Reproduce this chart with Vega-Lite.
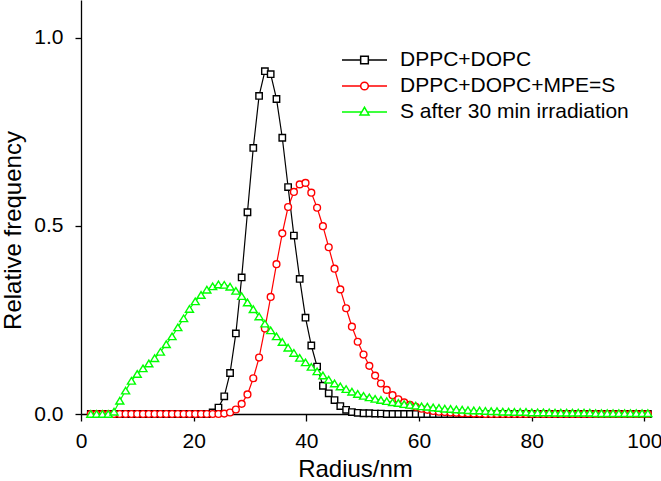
{
"$schema":"https://vega.github.io/schema/vega-lite/v6.json",
"width":569,"height":414,
"autosize":{"type":"none"},
"padding":{"left":81,"top":0,"right":11,"bottom":67},
"background":"white",
"config":{"view":{"stroke":null},"font":"Liberation Sans"},
"data":{"values":[
{"s":"A","x":1.74,"y":0},{"s":"A","x":2.77,"y":0},{"s":"A","x":3.80,"y":0},{"s":"A","x":4.83,"y":0},{"s":"A","x":5.86,"y":0},{"s":"A","x":6.89,"y":0},{"s":"A","x":7.92,"y":0},{"s":"A","x":8.95,"y":0},{"s":"A","x":9.98,"y":0},{"s":"A","x":11.01,"y":0},{"s":"A","x":12.04,"y":0},{"s":"A","x":13.07,"y":0},{"s":"A","x":14.10,"y":0},{"s":"A","x":15.13,"y":0},{"s":"A","x":16.16,"y":0},{"s":"A","x":17.19,"y":0},{"s":"A","x":18.22,"y":0},{"s":"A","x":19.25,"y":0},{"s":"A","x":20.28,"y":0},{"s":"A","x":21.31,"y":0},{"s":"A","x":22.34,"y":0},{"s":"A","x":23.37,"y":0.004},{"s":"A","x":24.40,"y":0.017},{"s":"A","x":25.43,"y":0.047},{"s":"A","x":26.46,"y":0.109},{"s":"A","x":27.49,"y":0.214},{"s":"A","x":28.52,"y":0.363},{"s":"A","x":29.55,"y":0.536},{"s":"A","x":30.58,"y":0.707},{"s":"A","x":31.61,"y":0.845},{"s":"A","x":32.64,"y":0.911},{"s":"A","x":33.67,"y":0.903},{"s":"A","x":34.70,"y":0.837},{"s":"A","x":35.73,"y":0.734},{"s":"A","x":36.76,"y":0.603},{"s":"A","x":37.79,"y":0.474},{"s":"A","x":38.82,"y":0.359},{"s":"A","x":39.85,"y":0.256},{"s":"A","x":40.88,"y":0.182},{"s":"A","x":41.91,"y":0.126},{"s":"A","x":42.94,"y":0.075},{"s":"A","x":43.97,"y":0.055},{"s":"A","x":45.00,"y":0.037},{"s":"A","x":46.03,"y":0.021},{"s":"A","x":47.06,"y":0.011},{"s":"A","x":48.09,"y":0.005},{"s":"A","x":49.12,"y":0.003},{"s":"A","x":50.15,"y":0.002},{"s":"A","x":51.18,"y":0.002},{"s":"A","x":52.21,"y":0.001},{"s":"A","x":53.24,"y":0.001},{"s":"A","x":54.27,"y":0},{"s":"A","x":55.30,"y":0},{"s":"A","x":56.33,"y":0},{"s":"A","x":57.36,"y":0},{"s":"A","x":58.39,"y":0},{"s":"A","x":59.42,"y":0},{"s":"A","x":60.45,"y":0},{"s":"A","x":61.48,"y":0},{"s":"A","x":62.51,"y":0},{"s":"A","x":63.54,"y":0},{"s":"A","x":64.57,"y":0},{"s":"A","x":65.60,"y":0},{"s":"A","x":66.63,"y":0},{"s":"A","x":67.66,"y":0},{"s":"A","x":68.69,"y":0},{"s":"A","x":69.72,"y":0},{"s":"A","x":70.75,"y":0},{"s":"A","x":71.78,"y":0},{"s":"A","x":72.81,"y":0},{"s":"A","x":73.84,"y":0},{"s":"A","x":74.87,"y":0},{"s":"A","x":75.90,"y":0},{"s":"A","x":76.93,"y":0},{"s":"A","x":77.96,"y":0},{"s":"A","x":78.99,"y":0},{"s":"A","x":80.02,"y":0},{"s":"A","x":81.05,"y":0},{"s":"A","x":82.08,"y":0},{"s":"A","x":83.11,"y":0},{"s":"A","x":84.14,"y":0},{"s":"A","x":85.17,"y":0},{"s":"A","x":86.20,"y":0},{"s":"A","x":87.23,"y":0},{"s":"A","x":88.26,"y":0},{"s":"A","x":89.29,"y":0},{"s":"A","x":90.32,"y":0},{"s":"A","x":91.35,"y":0},{"s":"A","x":92.38,"y":0},{"s":"A","x":93.41,"y":0},{"s":"A","x":94.44,"y":0},{"s":"A","x":95.47,"y":0},{"s":"A","x":96.50,"y":0},{"s":"A","x":97.53,"y":0},{"s":"A","x":98.56,"y":0},{"s":"A","x":99.59,"y":0},{"s":"A","x":100.62,"y":0},
{"s":"B","x":1.74,"y":0},{"s":"B","x":2.77,"y":0},{"s":"B","x":3.80,"y":0},{"s":"B","x":4.83,"y":0},{"s":"B","x":5.86,"y":0},{"s":"B","x":6.89,"y":0},{"s":"B","x":7.92,"y":0},{"s":"B","x":8.95,"y":0},{"s":"B","x":9.98,"y":0},{"s":"B","x":11.01,"y":0},{"s":"B","x":12.04,"y":0},{"s":"B","x":13.07,"y":0},{"s":"B","x":14.10,"y":0},{"s":"B","x":15.13,"y":0},{"s":"B","x":16.16,"y":0},{"s":"B","x":17.19,"y":0},{"s":"B","x":18.22,"y":0},{"s":"B","x":19.25,"y":0},{"s":"B","x":20.28,"y":0},{"s":"B","x":21.31,"y":0},{"s":"B","x":22.34,"y":0},{"s":"B","x":23.37,"y":0},{"s":"B","x":24.40,"y":0},{"s":"B","x":25.43,"y":0.001},{"s":"B","x":26.46,"y":0.004},{"s":"B","x":27.49,"y":0.012},{"s":"B","x":28.52,"y":0.027},{"s":"B","x":29.55,"y":0.052},{"s":"B","x":30.58,"y":0.095},{"s":"B","x":31.61,"y":0.150},{"s":"B","x":32.64,"y":0.227},{"s":"B","x":33.67,"y":0.311},{"s":"B","x":34.70,"y":0.398},{"s":"B","x":35.73,"y":0.480},{"s":"B","x":36.76,"y":0.550},{"s":"B","x":37.79,"y":0.590},{"s":"B","x":38.82,"y":0.610},{"s":"B","x":39.85,"y":0.614},{"s":"B","x":40.88,"y":0.588},{"s":"B","x":41.91,"y":0.548},{"s":"B","x":42.94,"y":0.499},{"s":"B","x":43.97,"y":0.443},{"s":"B","x":45.00,"y":0.386},{"s":"B","x":46.03,"y":0.331},{"s":"B","x":47.06,"y":0.281},{"s":"B","x":48.09,"y":0.232},{"s":"B","x":49.12,"y":0.192},{"s":"B","x":50.15,"y":0.158},{"s":"B","x":51.18,"y":0.128},{"s":"B","x":52.21,"y":0.102},{"s":"B","x":53.24,"y":0.081},{"s":"B","x":54.27,"y":0.064},{"s":"B","x":55.30,"y":0.050},{"s":"B","x":56.33,"y":0.039},{"s":"B","x":57.36,"y":0.031},{"s":"B","x":58.39,"y":0.024},{"s":"B","x":59.42,"y":0.019},{"s":"B","x":60.45,"y":0.014},{"s":"B","x":61.48,"y":0.011},{"s":"B","x":62.51,"y":0.008},{"s":"B","x":63.54,"y":0.006},{"s":"B","x":64.57,"y":0.005},{"s":"B","x":65.60,"y":0.004},{"s":"B","x":66.63,"y":0.003},{"s":"B","x":67.66,"y":0.002},{"s":"B","x":68.69,"y":0.002},{"s":"B","x":69.72,"y":0.001},{"s":"B","x":70.75,"y":0.001},{"s":"B","x":71.78,"y":0},{"s":"B","x":72.81,"y":0},{"s":"B","x":73.84,"y":0},{"s":"B","x":74.87,"y":0},{"s":"B","x":75.90,"y":0},{"s":"B","x":76.93,"y":0},{"s":"B","x":77.96,"y":0},{"s":"B","x":78.99,"y":0},{"s":"B","x":80.02,"y":0},{"s":"B","x":81.05,"y":0},{"s":"B","x":82.08,"y":0},{"s":"B","x":83.11,"y":0},{"s":"B","x":84.14,"y":0},{"s":"B","x":85.17,"y":0},{"s":"B","x":86.20,"y":0},{"s":"B","x":87.23,"y":0},{"s":"B","x":88.26,"y":0},{"s":"B","x":89.29,"y":0},{"s":"B","x":90.32,"y":0},{"s":"B","x":91.35,"y":0},{"s":"B","x":92.38,"y":0},{"s":"B","x":93.41,"y":0},{"s":"B","x":94.44,"y":0},{"s":"B","x":95.47,"y":0},{"s":"B","x":96.50,"y":0},{"s":"B","x":97.53,"y":0},{"s":"B","x":98.56,"y":0},{"s":"B","x":99.59,"y":0},{"s":"B","x":100.62,"y":0},
{"s":"C","x":1.74,"y":0},{"s":"C","x":2.77,"y":0},{"s":"C","x":3.80,"y":0},{"s":"C","x":4.83,"y":0},{"s":"C","x":5.86,"y":0.006},{"s":"C","x":6.89,"y":0.035},{"s":"C","x":7.92,"y":0.062},{"s":"C","x":8.95,"y":0.088},{"s":"C","x":9.98,"y":0.106},{"s":"C","x":11.01,"y":0.121},{"s":"C","x":12.04,"y":0.134},{"s":"C","x":13.07,"y":0.148},{"s":"C","x":14.10,"y":0.165},{"s":"C","x":15.13,"y":0.185},{"s":"C","x":16.16,"y":0.206},{"s":"C","x":17.19,"y":0.230},{"s":"C","x":18.22,"y":0.254},{"s":"C","x":19.25,"y":0.279},{"s":"C","x":20.28,"y":0.299},{"s":"C","x":21.31,"y":0.316},{"s":"C","x":22.34,"y":0.330},{"s":"C","x":23.37,"y":0.339},{"s":"C","x":24.40,"y":0.344},{"s":"C","x":25.43,"y":0.343},{"s":"C","x":26.46,"y":0.338},{"s":"C","x":27.49,"y":0.327},{"s":"C","x":28.52,"y":0.313},{"s":"C","x":29.55,"y":0.296},{"s":"C","x":30.58,"y":0.278},{"s":"C","x":31.61,"y":0.259},{"s":"C","x":32.64,"y":0.240},{"s":"C","x":33.67,"y":0.222},{"s":"C","x":34.70,"y":0.206},{"s":"C","x":35.73,"y":0.191},{"s":"C","x":36.76,"y":0.176},{"s":"C","x":37.79,"y":0.162},{"s":"C","x":38.82,"y":0.149},{"s":"C","x":39.85,"y":0.137},{"s":"C","x":40.88,"y":0.125},{"s":"C","x":41.91,"y":0.113},{"s":"C","x":42.94,"y":0.102},{"s":"C","x":43.97,"y":0.091},{"s":"C","x":45.00,"y":0.081},{"s":"C","x":46.03,"y":0.073},{"s":"C","x":47.06,"y":0.066},{"s":"C","x":48.09,"y":0.059},{"s":"C","x":49.12,"y":0.053},{"s":"C","x":50.15,"y":0.048},{"s":"C","x":51.18,"y":0.044},{"s":"C","x":52.21,"y":0.040},{"s":"C","x":53.24,"y":0.037},{"s":"C","x":54.27,"y":0.034},{"s":"C","x":55.30,"y":0.031},{"s":"C","x":56.33,"y":0.029},{"s":"C","x":57.36,"y":0.026},{"s":"C","x":58.39,"y":0.024},{"s":"C","x":59.42,"y":0.022},{"s":"C","x":60.45,"y":0.020},{"s":"C","x":61.48,"y":0.019},{"s":"C","x":62.51,"y":0.017},{"s":"C","x":63.54,"y":0.016},{"s":"C","x":64.57,"y":0.014},{"s":"C","x":65.60,"y":0.013},{"s":"C","x":66.63,"y":0.012},{"s":"C","x":67.66,"y":0.011},{"s":"C","x":68.69,"y":0.010},{"s":"C","x":69.72,"y":0.009},{"s":"C","x":70.75,"y":0.009},{"s":"C","x":71.78,"y":0.008},{"s":"C","x":72.81,"y":0.007},{"s":"C","x":73.84,"y":0.007},{"s":"C","x":74.87,"y":0.006},{"s":"C","x":75.90,"y":0.006},{"s":"C","x":76.93,"y":0.005},{"s":"C","x":77.96,"y":0.005},{"s":"C","x":78.99,"y":0.005},{"s":"C","x":80.02,"y":0.004},{"s":"C","x":81.05,"y":0.004},{"s":"C","x":82.08,"y":0.004},{"s":"C","x":83.11,"y":0.004},{"s":"C","x":84.14,"y":0.003},{"s":"C","x":85.17,"y":0.003},{"s":"C","x":86.20,"y":0.003},{"s":"C","x":87.23,"y":0.003},{"s":"C","x":88.26,"y":0.003},{"s":"C","x":89.29,"y":0.003},{"s":"C","x":90.32,"y":0.003},{"s":"C","x":91.35,"y":0.002},{"s":"C","x":92.38,"y":0.002},{"s":"C","x":93.41,"y":0.002},{"s":"C","x":94.44,"y":0.002},{"s":"C","x":95.47,"y":0.002},{"s":"C","x":96.50,"y":0.002},{"s":"C","x":97.53,"y":0.002},{"s":"C","x":98.56,"y":0.002},{"s":"C","x":99.59,"y":0.002},{"s":"C","x":100.62,"y":0.002}
]},
"encoding":{
 "x":{"field":"x","type":"quantitative","scale":{"domain":[0,101],"nice":false,"zero":false},
  "axis":{"title":"Radius/nm","values":[0,20,40,60,80,100],"format":"d","grid":false,"domainColor":"black","domainWidth":1.3,"tickColor":"black","tickWidth":1.3,"tickSize":7,"labelFontSize":21,"labelColor":"black","labelPadding":9,"labelFont":"Liberation Sans","labelFlush":false,"titleFont":"Liberation Sans","titleFontSize":24,"titleFontWeight":"normal","titleColor":"black","titleX":274,"titleY":62,"titleBaseline":"alphabetic","titleAlign":"center","titleAnchor":null}},
 "y":{"field":"y","type":"quantitative","scale":{"domain":[0,1.1],"nice":false,"zero":false},
  "axis":{"title":"Relative frequency","values":[0,0.5,1],"format":".1f","grid":false,"domainColor":"black","domainWidth":1.3,"tickColor":"black","tickWidth":1.3,"tickSize":6,"labelFontSize":21,"labelColor":"black","labelPadding":12,"labelFont":"Liberation Sans","labelFlush":false,"titleFont":"Liberation Sans","titleFontSize":24,"titleFontWeight":"normal","titleColor":"black","titleX":-61,"titleY":230,"titleAngle":-90,"titleBaseline":"alphabetic","titleAlign":"center","titleAnchor":null}}
},
"layer":[
 {"transform":[{"filter":"datum.s === 'A'"}],
  "encoding":{"color":{"field":"s","type":"nominal","scale":{"domain":["A"],"range":["#000000"]},
   "legend":{"title":null,"orient":"none","legendX":260,"legendY":47,"padding":0,"offset":0,"symbolType":"M-1,0L-0.17,0M0.17,0L1,0M-0.17,-0.17L0.17,-0.17L0.17,0.17L-0.17,0.17Z","symbolSize":2025,"symbolStrokeWidth":1.5,"symbolFillColor":"white","symbolOpacity":1,"clipHeight":26,"labelOffset":12,"labelFontSize":21,"labelColor":"black","labelFont":"Liberation Sans","labelLimit":400,"labelExpr":"'DPPC+DOPC'"}}},
  "layer":[
   {"mark":{"type":"line","strokeWidth":1.2}},
   {"mark":{"type":"point","shape":"M-0.8,-0.8H0.8V0.8H-0.8Z","filled":false,"fill":"white","opacity":1,"strokeWidth":1.4,"size":64}}
  ]},
 {"transform":[{"filter":"datum.s === 'B'"}],
  "encoding":{"color":{"field":"s","type":"nominal","scale":{"domain":["B"],"range":["#ff0000"]},
   "legend":{"title":null,"orient":"none","legendX":260,"legendY":73,"padding":0,"offset":0,"symbolType":"M-1,0L-0.17,0M0.17,0L1,0M0.17,0A0.17,0.17,0,1,1,-0.17,0A0.17,0.17,0,1,1,0.17,0Z","symbolSize":2025,"symbolStrokeWidth":1.5,"symbolFillColor":"white","symbolOpacity":1,"clipHeight":26,"labelOffset":12,"labelFontSize":21,"labelColor":"black","labelFont":"Liberation Sans","labelLimit":400,"labelExpr":"'DPPC+DOPC+MPE=S'"}}},
  "layer":[
   {"mark":{"type":"line","strokeWidth":1.2}},
   {"mark":{"type":"point","shape":"M0.85,0A0.85,0.85,0,1,1,-0.85,0A0.85,0.85,0,1,1,0.85,0Z","filled":false,"fill":"white","opacity":1,"strokeWidth":1.4,"size":64}}
  ]},
 {"transform":[{"filter":"datum.s === 'C'"}],
  "encoding":{"color":{"field":"s","type":"nominal","scale":{"domain":["C"],"range":["#00ff00"]},
   "legend":{"title":null,"orient":"none","legendX":260,"legendY":99,"padding":0,"offset":0,"symbolType":"M-1,0L-0.13,0M0.13,0L1,0M-0.2,0.13L0.2,0.13L0,-0.21Z","symbolSize":2025,"symbolStrokeWidth":1.5,"symbolFillColor":"white","symbolOpacity":1,"clipHeight":26,"labelOffset":12,"labelFontSize":21,"labelColor":"black","labelFont":"Liberation Sans","labelLimit":400,"labelExpr":"'S after 30 min irradiation'"}}},
  "layer":[
   {"mark":{"type":"line","strokeWidth":1.2}},
   {"mark":{"type":"point","shape":"M0,-0.85L1,0.8L-1,0.8Z","filled":false,"fill":"white","opacity":1,"strokeWidth":1.4,"size":64}}
  ]}
],
"resolve":{"scale":{"color":"independent"}}
}
